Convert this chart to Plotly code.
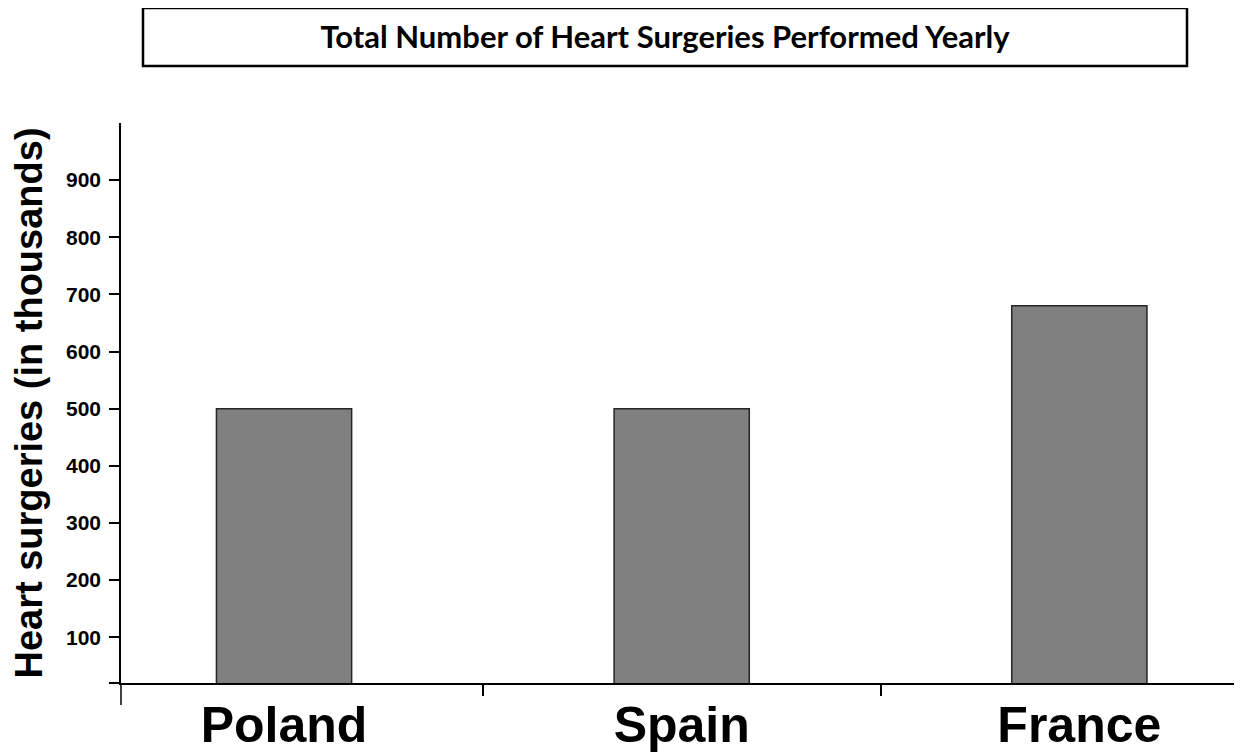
import plotly.graph_objects as go

# data
countries = ["Poland", "Spain", "France"]
surgeries = [500, 500, 680]          # thousands
y_ticks = [100, 200, 300, 400, 500, 600, 700, 800, 900]
y_min, y_max = 20, 1000

axis_font = dict(family="Liberation Sans, Arial", color="black", weight="bold")

# the page body adds an 8px margin, so the figure sits at (8, 8)
PAGE_OFF = 8

fig = go.Figure()

fig.add_trace(go.Bar(
    x=countries,
    y=surgeries,
    width=0.34,
    marker=dict(color="#808080", line=dict(color="#262626", width=1.5)),
    showlegend=False,
))

fig.update_layout(
    width=1242,
    height=753,
    margin=dict(l=121 - PAGE_OFF, r=2 + PAGE_OFF, t=123 - PAGE_OFF, b=70 + PAGE_OFF),
    plot_bgcolor="white",
    paper_bgcolor="white",
    title=dict(
        text="Total Number of Heart Surgeries Performed Yearly",
        font=dict(family="Lato, Open Sans", size=31, color="black", weight="bold"),
        xref="container", x=(665 - PAGE_OFF) / 1242, xanchor="center",
        yref="container", y=1 - (37 - PAGE_OFF) / 753, yanchor="middle",
    ),
)

# box around the title
fig.add_shape(
    type="rect", xref="paper", yref="paper",
    x0=(143 - 121) / 1119, x1=(1187 - 121) / 1119,
    y0=(683 - 66) / 560, y1=(683 - 8) / 560,
    line=dict(color="black", width=2.5),
)

# y axis line continues a little below the x axis
fig.add_shape(
    type="line", xref="paper", yref="paper",
    x0=0, x1=0, ysizemode="pixel", yanchor=0, y0=0, y1=-22,
    line=dict(color="black", width=1.5),
)

fig.update_xaxes(
    type="category",
    range=[-0.41, 2.404],
    automargin=False,
    showline=True, linecolor="black", linewidth=1.5,
    ticks="outside", tickson="boundaries", ticklen=11, tickwidth=1.5, tickcolor="black",
    ticklabelstandoff=-3,
    tickfont=dict(size=50, **axis_font),
    showgrid=False, zeroline=False,
)

fig.update_yaxes(
    range=[y_min, y_max],
    tickvals=[y_min] + y_ticks,
    ticktext=[""] + [str(v) for v in y_ticks],
    automargin=False,
    showline=True, linecolor="black", linewidth=1.5,
    ticks="outside", ticklen=10, tickwidth=1.5, tickcolor="black",
    ticklabelstandoff=4,
    tickfont=dict(size=21, **axis_font),
    showgrid=False, zeroline=False,
    title=dict(text="Heart surgeries (in thousands)", font=dict(size=38, **axis_font), standoff=23),
)

fig.write_html("out.html")
